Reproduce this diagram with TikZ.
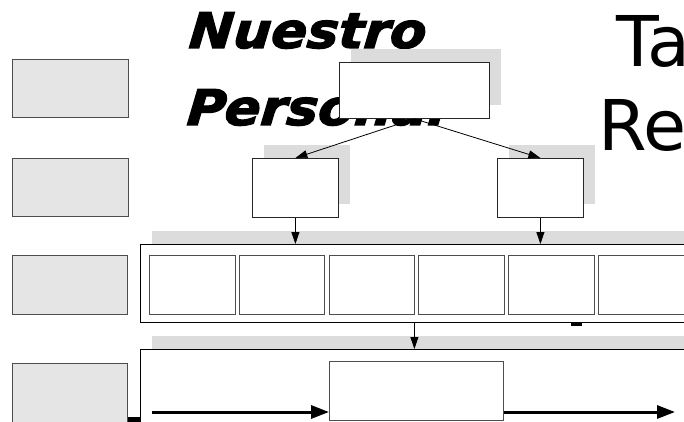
\documentclass[tikz,border=0pt]{standalone}
\usepackage{fontspec}
\usetikzlibrary{arrows.meta,positioning,shadows}
\newfontfamily\headfont{DejaVu Sans Bold Oblique}[FakeBold=2.5,FakeSlant=0.08]
\newfontfamily\titlefont{DejaVu Sans}
\definecolor{shade}{HTML}{DCDCDC}
\definecolor{boxgray}{HTML}{E5E5E5}
\definecolor{edgegray}{HTML}{4D4D4D}
\tikzset{
  shadowed/.style={drop shadow={shadow xshift=12pt,shadow yshift=13pt,fill=shade,opacity=1}},
  link/.style={-{Triangle[length=12pt,width=8pt]},line width=0.8pt,black},
  flow/.style={-{Triangle[length=18pt,width=13pt]},line width=3pt,black}
}
\begin{document}
\begin{tikzpicture}[x=1pt,y=-1pt,
  side/.style={draw=edgegray,fill=boxgray,line width=0.8pt,minimum width=116pt,
    minimum height=58pt,inner sep=0pt,anchor=north west},
  unit/.style={draw=black!85,fill=white,line width=0.8pt,inner sep=0pt,anchor=north west,shadowed},
  cell/.style={draw=edgegray,fill=white,line width=1pt,minimum width=85.5pt,
    minimum height=59pt,inner sep=0pt,anchor=north west},
  band/.style={draw=black,fill=white,line width=0.9pt,inner sep=0pt,anchor=north west,shadowed},
  head/.style={font=\headfont\fontsize{49}{49}\selectfont,inner sep=0pt,anchor=base west},
  title/.style={font=\titlefont\fontsize{70}{70}\selectfont,inner sep=0pt,anchor=base west}]
\useasboundingbox (0,0) rectangle (684,422);
\clip (0,0) rectangle (684,422);
% side column
\node[side] (s1) at (12,59) {};
\node[side] (s2) at (12,158) {};
\node[side,minimum width=115pt,minimum height=59pt] (s3) at (12,255) {};
\node[side,minimum width=115pt,minimum height=62pt] (s4) at (12,363) {};
% headings
\node[head] (nu) at (188,48) {\scalebox{1.08}[1]{Nuestro}};
\node[head] (pe) at (186,125) {\scalebox{1.08}[1]{Personal}};
\node[title] (ta) at (616,67) {Ta};
\node[title] (re) at (598,150) {Rec};
% tree
\node[unit,minimum width=150pt,minimum height=56pt] (top) at (339,62) {};
\node[unit,minimum width=86pt,minimum height=59pt] (lft) at (252,158) {};
\node[unit,minimum width=86pt,minimum height=59pt] (rgt) at (497,158) {};
\node[band,minimum width=580pt,minimum height=78pt] (mid) at (140,244) {};
\foreach \i in {1,...,6}
  \node[cell] (c\i) at ({149+(\i-1)*89.8},255) {};
\node[band,minimum width=580pt,minimum height=100pt] (bot) at (140,349) {};
\node[cell,minimum width=174pt] (job) at (329,361) {};
\draw[link] (top.south) -- (lft.north);
\draw[link] (top.south) -- (rgt.north);
\draw[link] (lft.south) -- (lft.south |- mid.north);
\draw[link] (rgt.south) -- (rgt.south |- mid.north);
\draw[link] (top.south |- mid.south) -- (top.south |- bot.north);
\coordinate (in) at (152,412);
\coordinate (out) at (675,412);
\draw[flow] (in) -- (in -| job.west);
\draw[flow] (out -| job.east) -- (out);
\fill (128,417) rectangle (140,422);
\fill (571,322) rectangle (582,326);
\end{tikzpicture}
\end{document}
